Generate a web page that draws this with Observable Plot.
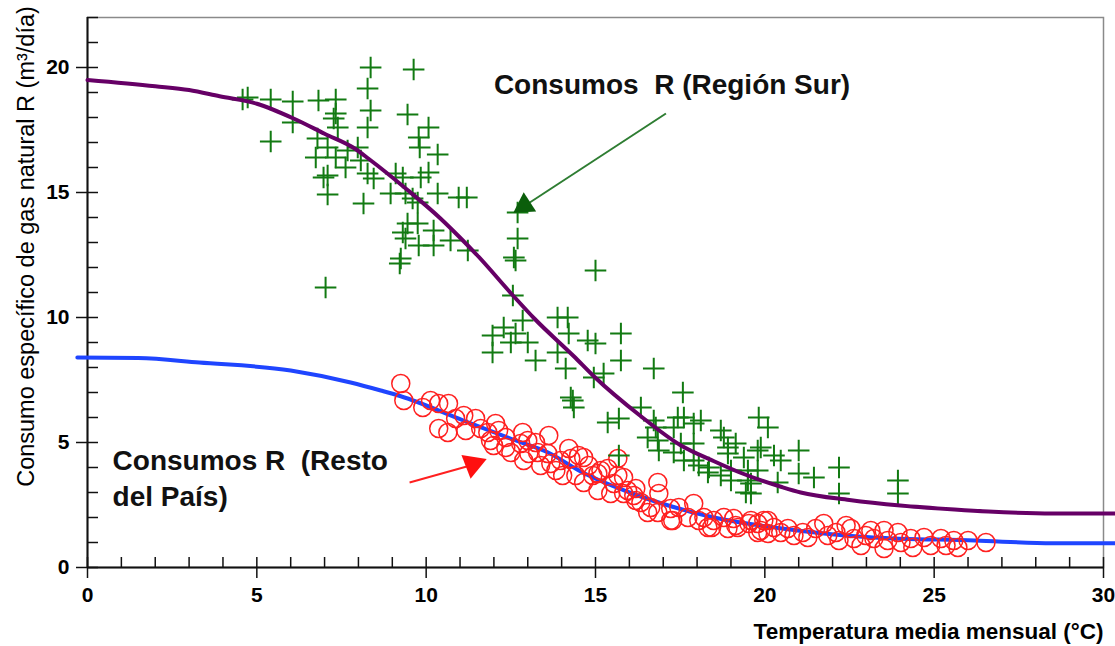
<!DOCTYPE html>
<html><head><meta charset="utf-8">
<script src="https://cdn.jsdelivr.net/npm/d3@7"></script>
<script src="https://cdn.jsdelivr.net/npm/@observablehq/plot@0.6"></script>
<style>body{margin:0;background:#fff}</style>
</head><body><div id="chart"></div>
<script>
// Tick values
const xMajor = [0, 5, 10, 15, 20, 25, 30];
const yMajor = [0, 5, 10, 15, 20];
const xMinor = d3.range(0, 31, 1);
const yMinor = d3.range(0, 23, 1);

// Fitted curves
const surCurveT = [0, 2, 3, 3.9, 5, 6.1, 7, 7.9, 8.3, 9.45, 10.43, 10.96, 11.5, 12.55, 13.2, 14.36, 14.95, 16.34, 17.5, 18.5, 19.3, 20.5, 21.06, 22.5, 24, 25.6, 26.6, 28.5, 30.4];
const surCurveV = [19.5, 19.25, 19.1, 18.85, 18.55, 17.95, 17.35, 16.75, 16.35, 15.1, 13.95, 13.25, 12.5, 10.9, 9.95, 8.45, 7.65, 6.05, 4.9, 4.25, 3.78, 3.22, 3.0, 2.7, 2.48, 2.32, 2.24, 2.16, 2.16];
const restoCurveT = [-0.3, 1.5, 3.3, 6, 7.77, 8.66, 9.25, 11.1, 12.6, 13.6, 14.55, 16.25, 18.5, 20.5, 23.2, 26.2, 28.5, 30.4];
const restoCurveV = [8.4, 8.38, 8.2, 7.88, 7.4, 7.08, 6.85, 5.88, 5.1, 4.6, 3.85, 2.88, 2.0, 1.56, 1.2, 1.08, 0.97, 0.97];

// Observed points [temperature, consumption]
const surPoints = [
[8.36,20.0],[9.63,19.92],[8.27,19.16],[8.36,18.28],[8.27,17.6],[9.45,18.12],[10.07,17.6],[9.78,17.2],[9.81,16.8],[10.34,16.52],[10.07,15.8],[9.84,15.6],[10.34,14.96],[10.96,14.8],[4.58,18.72],[4.73,18.8],[5.41,18.72],[6.06,18.64],[6.82,18.68],[7.33,18.72],[7.33,18.16],[7.27,17.96],[7.39,17.6],[6.06,17.8],[5.41,17.04],[6.79,17.16],[6.74,16.4],[7.09,16.8],[7.33,16.4],[7.68,16.68],[7.98,16.8],[8.07,16.28],[7.62,16.0],[7.09,15.68],[6.97,15.6],[7.09,14.92],[8.27,15.76],[8.45,15.56],[8.15,14.56],[8.95,14.96],[9.1,15.76],[9.31,15.6],[9.39,14.96],[9.6,14.76],[9.75,14.6],[9.31,13.4],[9.39,13.16],[9.75,13.76],[9.45,13.76],[10.22,13.48],[10.22,12.88],[9.78,12.88],[9.25,12.36],[9.22,12.16],[10.72,13.08],[7.03,11.2],
[11.2,14.8],[12.7,14.2],[12.7,13.16],[12.59,12.4],[12.64,12.28],[11.23,12.68],[15.0,11.88],[12.56,10.88],[12.29,9.6],[11.96,9.28],[11.96,8.6],[12.64,9.36],[12.5,9.0],[13.0,9.0],[12.85,9.88],[13.23,8.28],[13.88,10.0],[14.18,10.0],[14.21,9.36],[13.88,8.6],[14.12,7.96],[14.77,9.08],[15.0,8.96],[15.75,9.36],[15.75,8.28],[14.95,7.6],[15.24,7.76],[14.33,6.68],[14.36,6.4],[14.27,6.8],[16.34,6.4],[16.72,7.96],
[17.58,7.0],[15.36,5.8],[15.69,5.96],[15.69,4.48],[16.72,5.88],[16.54,5.2],[16.84,5.08],[17.31,5.6],[17.43,6.0],[17.61,6.0],[17.9,5.76],[18.11,5.88],[17.52,4.96],[17.9,4.96],[17.9,4.28],[18.35,4.0],[18.7,5.48],[18.79,5.2],[18.91,4.56],[19.0,3.88],[19.5,3.48],[19.59,2.96],[19.82,6.0],[20.09,5.6],[19.88,4.8],[19.38,4.4],[19.79,3.88],
[16.78,5.6],[16.87,4.68],[17.31,4.6],[17.61,4.28],[18.05,4.08],[18.32,3.8],[18.91,4.8],[19.14,4.96],[18.7,3.68],[19.0,3.48],[19.5,3.88],[19.59,3.36],[19.44,3.0],[19.79,4.68],[20.27,4.48],[20.47,4.28],[20.38,3.4],[21.0,4.68],[21.0,3.76],[21.45,3.6],[22.19,4.0],[22.19,2.96],[23.93,3.48],[23.93,2.96]
];
const restoPoints = [
[9.25,7.36],[9.34,6.68],[9.9,6.4],[10.13,6.68],[10.37,6.56],[10.66,6.56],[10.37,5.56],[10.64,5.4],[11.11,6.08],[11.46,5.96],[11.17,5.48],[11.61,5.56],[11.82,5.4],[12.05,5.76],[12.14,5.48],[11.99,4.88],[12.35,5.2],[12.35,4.8],[12.85,5.4],[12.79,4.96],[13.0,5.08],[13.23,5.0],[13.62,5.28],[12.88,4.28],[13.03,4.56],[13.29,4.6],[13.59,4.56],[13.68,4.16],[13.83,3.88],[14.03,3.68],[14.21,4.76],[14.27,4.36],[14.5,4.48],[14.65,4.4],[14.42,3.68],[14.65,3.4],[14.92,3.68],[15.07,3.08],[15.36,3.96],[15.66,4.36],[15.66,3.68],[15.83,3.6],[15.95,3.08],[16.19,3.16],[16.19,2.68],[15.45,2.96],
[10.87,5.96],[11.9,5.08],[12.5,4.6],[13.38,4.08],[15.16,3.88],[14.8,4.08],[13.97,4.28],
[15.07,3.76],[15.54,3.36],[15.83,2.96],[16.13,2.88],[16.84,3.4],[16.87,2.96],[16.54,2.2],[16.84,2.2],[17.22,2.36],[17.46,2.4],[17.9,2.56],[17.73,2.0],[18.2,2.0],[18.49,1.88],[18.79,2.0],[19.08,1.96],[19.2,1.6],[19.59,1.88],[19.97,1.88],[20.27,1.6],[19.88,1.48],[18.91,1.56],[18.32,1.6],[17.22,1.88],[16.63,2.4],[16.34,2.6],
[17.28,1.88],[18.05,1.88],[19.14,1.68],[18.43,1.6],[19.53,1.76],[19.79,1.76],[20.09,1.88],[19.79,1.4],[20.09,1.36],[20.47,1.4],[20.68,1.56],[21.12,1.4],[20.86,1.28],[21.27,1.2],[21.74,1.76],[21.86,1.28],[22.1,1.4],[22.19,1.08],[22.54,1.56],[22.63,1.16],[22.98,1.28],[22.84,0.88],[23.22,1.16],[23.52,1.48],[23.63,1.08],[23.52,0.76],[23.93,1.4],[24.02,1.0],[24.31,1.16],[24.37,0.8],[24.7,1.2],[24.9,0.88],[25.2,1.16],[25.35,0.88],[25.58,1.08],[25.7,0.8],[26.0,1.08],[26.53,1.0],
[21.5,1.56],[22.4,1.68],[23.13,1.48]
];

// Labels and annotations
const xTitle = "Temperatura media mensual (°C)";
const yTitle = "Consumo específico de gas natural R (m³/día)";
const labelSur = {text: "Consumos\u00a0 R (Región Sur)", x: 12.0, y: 19.28};
const labelResto = {text: "Consumos R \u00a0(Resto\ndel País)", x: 0.74, y: 3.64};
const arrowSur = {x1: 17.08, y1: 18.16, x2: 13.06, y2: 14.6, hx: 12.9, hy: 14.48, angle: -123};
const arrowResto = {x1: 9.51, y1: 3.4, x2: 11.2, y2: 4.04, hx: 11.38, hy: 4.13, angle: 69};

const surCurve = surCurveT.map((t, i) => ({t, v: surCurveV[i]}));
const restoCurve = restoCurveT.map((t, i) => ({t, v: restoCurveV[i]}));

const W = 1115, H = 646, mL = 87, mR = 12, mT = 17, mB = 79;
const plotW = W - mL - mR, plotH = H - mT - mB;
const font = "'Liberation Sans', Arial, Helvetica, sans-serif";

const chart = Plot.plot({
  width: W, height: H,
  marginLeft: mL, marginRight: mR, marginTop: mT, marginBottom: mB,
  x: {domain: [0, 30]},
  y: {domain: [0, 22]},
  style: {fontFamily: font, fontSize: "21px", fontWeight: "bold", background: "#fff", color: "#000", overflow: "visible"},
  marks: [
    Plot.frame({stroke: "#8a8a8a", strokeWidth: 1.5}),
    Plot.tickX(xMinor, {x: d => d, insetTop: plotH - 10, stroke: "#111", strokeWidth: 1.5}),
    Plot.tickY(yMinor, {y: d => d, insetRight: plotW - 11, stroke: "#111", strokeWidth: 1.5}),
    Plot.axisX({ticks: xMajor, tickSize: 11, tickPadding: 9, label: null, stroke: "#111", strokeWidth: 1.5, fill: "#000", fontSize: 21, fontWeight: "bold"}),
    Plot.axisY({ticks: yMajor, tickSize: 11, tickPadding: 7, label: null, stroke: "#111", strokeWidth: 1.5, fill: "#000", fontSize: 21, fontWeight: "bold"}),
    Plot.ruleX([0], {stroke: "#111", strokeWidth: 2}),
    Plot.ruleY([0], {stroke: "#111", strokeWidth: 2}),
    // Resto del País
    Plot.line(restoCurve, {x: "t", y: "v", stroke: "#1f45ff", strokeWidth: 4, curve: "monotone-x", clip: false}),
    Plot.dot(restoPoints, {x: d => d[0], y: d => d[1], r: 9, stroke: "#ff2020", strokeWidth: 1.5, fill: "none"}),
    // Región Sur
    Plot.dot(surPoints, {x: d => d[0], y: d => d[1], symbol: "plus", r: 7, stroke: "#127a12", strokeWidth: 2}),
    Plot.line(surCurve, {x: "t", y: "v", stroke: "#660066", strokeWidth: 4, curve: "monotone-x", clip: false}),
    // Arrows
    Plot.link([arrowSur], {x1: "x1", y1: "y1", x2: "x2", y2: "y2", stroke: "#2e7d32", strokeWidth: 2}),
    Plot.dot([arrowSur], {x: "hx", y: "hy", symbol: "triangle", r: 8.5, rotate: "angle", fill: "#0b5e0b", stroke: "none"}),
    Plot.link([arrowResto], {x1: "x1", y1: "y1", x2: "x2", y2: "y2", stroke: "#ff2020", strokeWidth: 2}),
    Plot.dot([arrowResto], {x: "hx", y: "hy", symbol: "triangle", r: 9.5, rotate: "angle", fill: "#ff1010", stroke: "none"}),
    // Annotations
    Plot.text([labelSur], {x: "x", y: "y", text: "text", textAnchor: "start", lineAnchor: "middle", fontSize: 28, fontWeight: "bold", fill: "#111"}),
    Plot.text([labelResto], {x: "x", y: "y", text: "text", textAnchor: "start", lineAnchor: "middle", lineHeight: 1.29, fontSize: 28, fontWeight: "bold", fill: "#111"}),
    // Axis titles
    Plot.text([xTitle], {frameAnchor: "bottom-right", text: d => d, textAnchor: "end", lineAnchor: "middle", dy: 64, fontSize: 22.5, fontWeight: "bold", fill: "#000"}),
    Plot.text([yTitle], {frameAnchor: "left", text: d => d, rotate: -90, textAnchor: "middle", lineAnchor: "bottom", dx: -54, dy: -46, fontSize: 23.5, fontWeight: "normal", fill: "#000"})
  ]
});
document.getElementById("chart").appendChild(chart);
</script>
</body></html>
